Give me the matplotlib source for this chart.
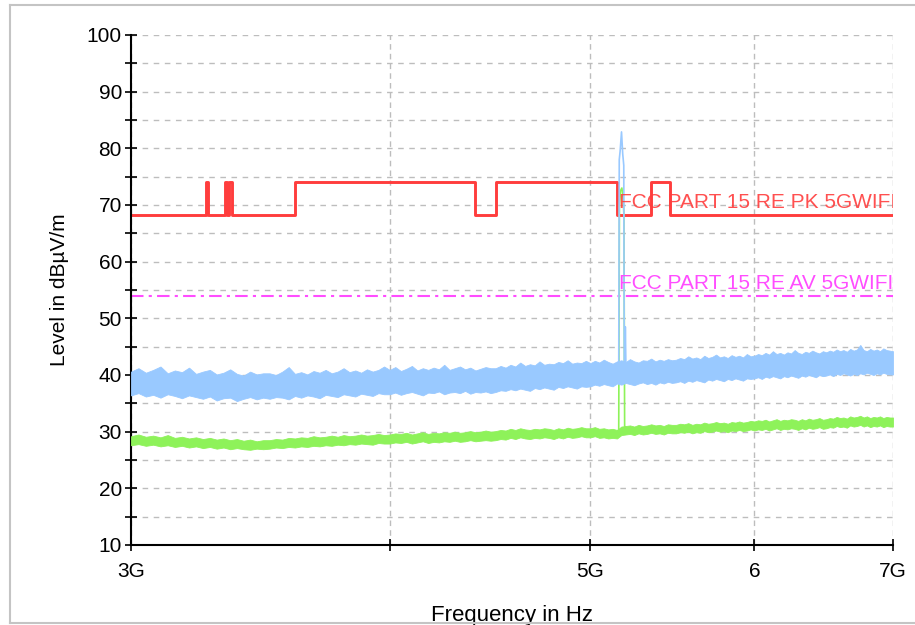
import numpy as np
import matplotlib
matplotlib.use('Agg')
import matplotlib.pyplot as plt
from matplotlib.ticker import FixedLocator, MultipleLocator, NullLocator
from matplotlib.lines import Line2D

plt.rcParams['font.family'] = ['Liberation Sans', 'DejaVu Sans']

# --- sweep settings (Hz) ---
sweep_start = 3.0e9
sweep_stop = 7.0e9
sweep_points = 161

# --- peak trace envelope (dBuV/m), 25 MHz steps ---
peak_hi = [
    40.6, 41.2, 40.4, 40.9, 41.5, 40.3, 40.8, 40.5, 41.3, 40.2, 40.6, 40.9, 40.1, 40.4, 41.0, 40.2, 39.9, 40.6, 40.1, 40.3,
    40.3, 40.0, 40.6, 41.4, 40.2, 40.5, 40.1, 40.7, 40.4, 40.9, 40.3, 40.6, 41.2, 40.5, 40.8, 40.4, 41.0, 40.6, 40.9, 41.5,
    40.9, 41.4, 40.7, 41.1, 41.6, 40.8, 41.2, 40.9, 41.3, 41.0, 41.8, 40.9, 41.2, 41.5, 41.0, 41.3, 40.8, 41.1, 41.4, 41.2,
    41.2, 41.6, 41.3, 41.8, 41.5, 42.2, 41.6, 41.9, 41.7, 42.4, 41.8, 42.0, 41.9, 42.3, 42.1, 42.6, 42.0, 42.2, 42.1, 42.5,
    42.1, 42.5, 42.2, 42.7, 42.3, 42.0, 42.4, 42.6, 42.3, 42.8, 42.4, 42.2, 42.6, 42.5, 42.9, 42.4, 42.7, 42.5, 42.8, 42.6,
    42.7, 43.0, 42.8, 43.3, 42.9, 43.1, 42.8, 43.4, 43.0, 43.2, 43.6, 43.1, 43.3, 43.0, 43.5, 43.2, 43.4, 43.1, 43.7, 43.3,
    43.4, 43.7, 43.5, 43.9, 43.6, 44.2, 43.7, 43.9, 43.6, 44.0, 43.8, 44.4, 43.9, 43.7, 44.1, 43.9, 44.3, 44.0, 43.8, 44.2,
    44.0, 44.3, 44.1, 44.5, 44.2, 44.4, 44.1, 44.6, 44.3, 44.5, 45.3, 44.4, 44.2, 44.6, 44.3, 44.5, 44.2, 44.7, 44.4, 44.3,
    44.2,
]
peak_lo = [
    36.4, 36.8, 36.2, 36.5, 36.0, 36.6, 36.3, 35.9, 36.4, 36.1, 35.8, 36.2, 35.5, 35.9, 36.0, 35.4, 35.8, 36.1, 35.7, 36.0,
    35.8, 36.1, 36.0, 35.7, 36.3, 36.0, 36.4, 36.2, 35.9, 36.5, 36.3, 36.1, 36.6, 36.4, 36.2, 36.7, 36.5, 36.3, 36.8, 36.6,
    36.6, 36.9, 36.5, 36.8, 37.0, 36.7, 36.4, 36.9, 36.8, 37.1, 36.6, 36.9, 37.0, 36.8, 37.2, 36.7, 37.0, 36.9, 37.1, 36.8,
    37.0, 37.3, 37.2, 37.5, 37.3, 37.6, 37.4, 37.2, 37.7, 37.5, 37.8, 37.6, 37.4, 37.9, 37.7, 38.0, 37.8, 37.6, 38.0, 37.9,
    38.0, 38.3, 38.1, 38.4, 38.2, 38.0, 38.5, 38.3, 38.6, 38.4, 38.2, 38.5, 38.7, 38.4, 38.6, 38.3, 38.7, 38.5, 38.8, 38.6,
    38.7, 38.9, 38.6, 39.0, 38.8, 39.1, 38.9, 38.7, 39.2, 39.0, 39.3, 39.1, 38.9, 39.3, 39.1, 39.4, 39.2, 39.0, 39.4, 39.3,
    39.4, 39.6, 39.3, 39.7, 39.5, 39.8, 39.6, 39.4, 39.8, 39.6, 39.9, 39.7, 39.5, 39.9, 39.7, 40.0, 39.8, 39.6, 40.0, 39.8,
    39.9, 40.1, 39.8, 40.2, 40.0, 40.3, 40.1, 39.9, 40.2, 40.0, 40.3, 40.1, 40.4, 40.2, 40.0, 40.3, 40.1, 40.4, 40.2, 40.1,
    40.1,
]

# --- average trace envelope (dBuV/m) ---
avg_hi = [
    29.2, 29.5, 29.1, 29.3, 29.0, 29.4, 28.9, 29.1, 28.8, 29.0, 28.7, 28.9, 28.6, 28.8, 28.5, 28.7, 28.4, 28.6, 28.3, 28.5,
    28.5, 28.7, 28.6, 28.9, 28.8, 29.0, 28.9, 29.2, 29.0, 29.1, 29.3, 29.1, 29.4, 29.2, 29.3, 29.5, 29.3, 29.4, 29.6, 29.4,
    29.5, 29.7, 29.6, 29.8, 29.5, 29.7, 29.9, 29.6, 29.8, 29.7, 29.9, 29.8, 30.0, 29.8, 29.9, 30.1, 29.9, 30.0, 30.2, 30.0,
    30.1, 30.3, 30.2, 30.5, 30.3, 30.6, 30.4, 30.3, 30.5, 30.4, 30.6, 30.5, 30.3, 30.6, 30.4, 30.7, 30.5, 30.6, 30.8, 30.6,
    30.6, 30.8, 30.5, 30.6, 30.4, 30.5, 30.3, 30.9, 31.0, 31.1, 30.9, 31.2, 31.0, 31.1, 31.3, 31.1, 31.2, 31.0, 31.3, 31.2,
    31.2, 31.4, 31.3, 31.5, 31.2, 31.4, 31.3, 31.6, 31.4, 31.5, 31.7, 31.5, 31.6, 31.4, 31.7, 31.6, 31.8, 31.6, 31.7, 31.9,
    31.8, 32.0, 31.9, 32.1, 31.8, 32.0, 32.2, 31.9, 32.1, 32.0, 32.2, 32.1, 31.9, 32.2, 32.0, 32.3, 32.1, 32.2, 32.4, 32.1,
    32.2, 32.4, 32.3, 32.6, 32.4, 32.5, 32.3, 32.7, 32.5, 32.6, 32.8, 32.5, 32.7, 32.4, 32.6, 32.5, 32.7, 32.4, 32.6, 32.5,
    32.5,
]
avg_lo = [
    27.6, 27.8, 27.5, 27.7, 27.4, 27.6, 27.3, 27.5, 27.2, 27.4, 27.1, 27.3, 27.0, 27.2, 26.9, 27.1, 26.9, 26.8, 27.0, 26.9,
    27.0, 27.2, 27.1, 27.3, 27.2, 27.4, 27.3, 27.5, 27.4, 27.6, 27.5, 27.7, 27.6, 27.8, 27.7, 27.9, 27.8, 27.7, 28.0, 27.9,
    27.9, 28.1, 28.0, 28.2, 27.9, 28.1, 28.3, 28.0, 28.2, 28.1, 28.3, 28.2, 28.4, 28.2, 28.3, 28.5, 28.3, 28.4, 28.5, 28.4,
    28.5, 28.7, 28.6, 28.9, 28.7, 29.0, 28.8, 28.7, 28.9, 28.8, 29.0, 28.9, 28.7, 29.0, 28.8, 29.1, 28.9, 29.0, 29.2, 29.0,
    29.0, 29.2, 28.9, 29.0, 28.8, 28.9, 28.8, 29.4, 29.5, 29.6, 29.4, 29.7, 29.5, 29.6, 29.8, 29.6, 29.7, 29.5, 29.8, 29.7,
    29.7, 29.9, 29.8, 30.0, 29.7, 29.9, 29.8, 30.1, 29.9, 30.0, 30.2, 30.0, 30.1, 29.9, 30.2, 30.1, 30.3, 30.1, 30.2, 30.4,
    30.2, 30.4, 30.3, 30.5, 30.2, 30.4, 30.6, 30.3, 30.5, 30.4, 30.6, 30.5, 30.3, 30.6, 30.4, 30.7, 30.5, 30.6, 30.8, 30.5,
    30.6, 30.8, 30.7, 31.0, 30.8, 30.9, 30.7, 31.1, 30.9, 31.0, 31.2, 30.9, 31.1, 30.8, 31.0, 30.9, 31.1, 30.8, 31.0, 30.9,
    30.9,
]

# --- carrier at ~5.18 GHz (GHz, dBuV/m) ---
peak_spike_f = [5.150, 5.160, 5.163, 5.168, 5.176, 5.183, 5.189, 5.192, 5.195, 5.198, 5.202, 5.210]
peak_spike_db = [40.5, 41.5, 78.0, 79.5, 82.9, 79.0, 77.0, 41.5, 40.0, 48.5, 40.5, 40.5]
avg_spike_f = [5.150, 5.160, 5.164, 5.170, 5.178, 5.186, 5.190, 5.194, 5.205]
avg_spike_db = [30.0, 30.3, 70.0, 72.5, 73.0, 71.0, 68.0, 31.0, 30.5]

# --- limit lines (GHz band edges, dBuV/m) ---
pk_edges = [3.0, 3.26, 3.267, 3.332, 3.339, 3.3458, 3.358, 3.6, 4.4, 4.5, 5.15, 5.35, 5.46, 7.0]
pk_levels = [68.2, 74, 68.2, 74, 68.2, 74, 68.2, 74, 68.2, 74, 68.2, 74, 68.2, 68.2]
av_edges = [3.0, 7.0]
av_levels = [54, 54]
pk_label = 'FCC PART 15 RE PK 5GWIFI'
av_label = 'FCC PART 15 RE AV 5GWIFI'

x_ticks = [3e9, 4e9, 5e9, 6e9, 7e9]
x_ticklabels = ['3G', '', '5G', '6', '7G']

BLUE = '#99c9ff'
GREEN = '#8ef25a'
RED = '#ff3d3d'
MAGENTA = '#ff4dff'

fig = plt.figure(figsize=(9.15, 6.25), dpi=100)
ax = fig.add_axes([131 / 915, 1 - 545 / 625, 762 / 915, 510 / 625])

freq = np.linspace(sweep_start, sweep_stop, sweep_points)

# noisy traces as filled envelopes
ax.fill_between(freq, avg_lo, avg_hi, color=GREEN, lw=0.6, zorder=3)
ax.plot(np.array(avg_spike_f) * 1e9, avg_spike_db, color=GREEN, lw=1.2, zorder=3)

ax.fill_between(freq, peak_lo, peak_hi, color=BLUE, lw=0.6, zorder=4)
ax.plot(np.array(peak_spike_f) * 1e9, peak_spike_db, color=BLUE, lw=1.2, zorder=4)

# limits
ax.plot(np.array(pk_edges) * 1e9, pk_levels, drawstyle='steps-post',
        color=RED, lw=2.1, zorder=2)
ax.plot(np.array(av_edges) * 1e9, av_levels, color=MAGENTA, lw=1.5,
        linestyle=(0, (6, 2.5, 1.5, 2.5)), zorder=2)

ax.text(5.16e9, 69.4, pk_label, color=RED, fontsize=15, va='baseline',
        ha='left', clip_on=True, zorder=5, alpha=0.9)
ax.text(5.16e9, 55.2, av_label, color=MAGENTA, fontsize=15, va='baseline',
        ha='left', clip_on=True, zorder=5)

ax.set_xscale('log')
ax.set_xlim(sweep_start, sweep_stop)
ax.set_ylim(10, 100)
ax.xaxis.set_major_locator(FixedLocator(x_ticks))
ax.xaxis.set_minor_locator(NullLocator())
ax.set_xticklabels(x_ticklabels)
ax.yaxis.set_major_locator(MultipleLocator(10))
ax.yaxis.set_minor_locator(MultipleLocator(5))

ax.grid(which='both', axis='y', color='#bdbdbd', linestyle=(0, (4, 4)), lw=1.0)
ax.grid(which='major', axis='x', color='#bdbdbd', linestyle=(0, (4, 3)), lw=1.0)
ax.set_axisbelow(True)

for side in ['top', 'right']:
    ax.spines[side].set_visible(False)
ax.spines['left'].set_linewidth(1.5)
ax.spines['bottom'].set_linewidth(1.5)

ax.tick_params(axis='both', which='major', direction='inout', length=9,
               width=1.2, labelsize=15, colors='black', pad=2)
ax.tick_params(axis='y', which='minor', direction='inout', length=8, width=1.2)
ax.tick_params(axis='x', which='major', pad=8)

ax.set_xlabel('Frequency in Hz', fontsize=16, labelpad=17)
ax.set_ylabel('Level in dBµV/m', fontsize=15, labelpad=13)

# outer frame of the report window (left, top, bottom edges)
frame = '#c4c4c4'
fig.add_artist(Line2D([10 / 915, 10 / 915], [2 / 625, 1 - 5 / 625],
                      transform=fig.transFigure, color=frame, lw=1.5))
fig.add_artist(Line2D([10 / 915, 1.0], [1 - 5 / 625, 1 - 5 / 625],
                      transform=fig.transFigure, color=frame, lw=1.5))
fig.add_artist(Line2D([10 / 915, 1.0], [2 / 625, 2 / 625],
                      transform=fig.transFigure, color=frame, lw=1.5))

fig.savefig('out.png', dpi=100)
